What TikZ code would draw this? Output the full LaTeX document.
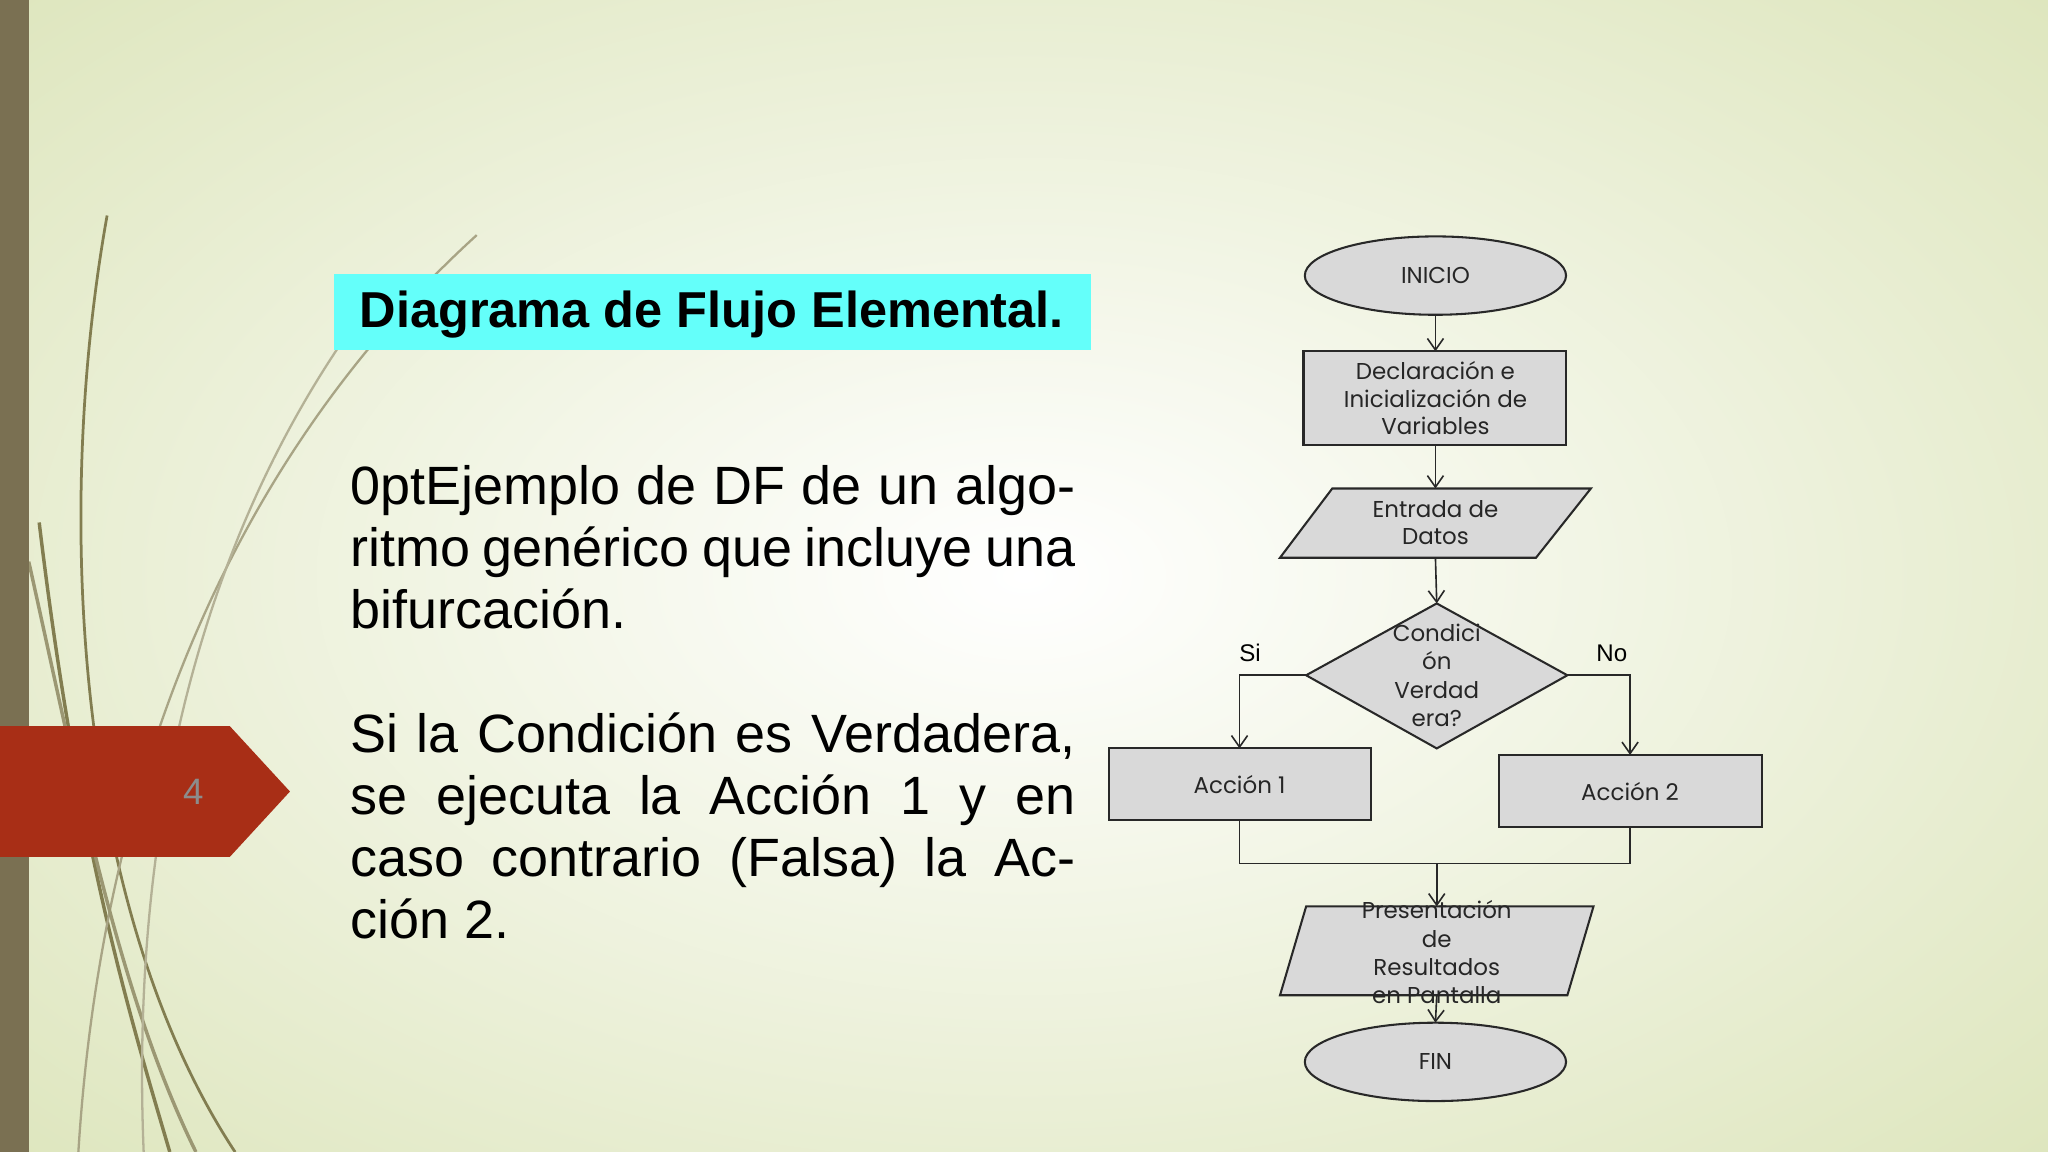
\documentclass[tikz,border=0pt]{standalone}
\usepackage{fontspec}
\setmainfont{Liberation Sans}
\newfontfamily\fcfont{Poppins}
\usetikzlibrary{arrows.meta,shapes.geometric}
\definecolor{bgout}{RGB}{222,230,190}
\definecolor{bar}{RGB}{122,112,82}
\definecolor{redtab}{RGB}{168,46,22}
\definecolor{cyanbox}{RGB}{100,255,250}
\definecolor{boxfill}{RGB}{217,217,217}
\definecolor{boxline}{RGB}{40,40,40}
\definecolor{deco}{RGB}{130,125,80}
\tikzset{
  fc/.style={draw=boxline,fill=boxfill,line width=0.9pt},
  fctext/.style={font=\fcfont\fontsize{10}{12}\selectfont,align=center,text=black!85},
  conn/.style={draw=boxline,line width=0.7pt},
  arr/.style={conn,-{Straight Barb[length=5pt,width=7pt]}},
}
\begin{document}
\begin{tikzpicture}[x=0.02cm,y=-0.02cm]
\useasboundingbox (0,0) rectangle (1568,882);
\shade[inner color=white,outer color=bgout] (-300,-200) rectangle (1868,1082);
% decorative curves
\draw[deco,line width=1.2pt] (82,165) .. controls (40,400) and (60,700) .. (180,882);
\draw[deco,line width=1.5pt] (30,400) .. controls (60,650) and (100,780) .. (130,882);
\draw[deco!70,line width=1pt] (365,180) .. controls (200,330) and (80,560) .. (60,882);
\draw[deco!80,line width=1.5pt] (22,430) .. controls (60,600) and (90,760) .. (150,882);
\draw[deco!60,line width=1pt] (270,250) .. controls (150,420) and (100,640) .. (110,882);
\fill[bar] (0,0) rectangle (22,882);
\fill[redtab] (0,556) -- (176,556) -- (222,606) -- (176,656) -- (0,656) -- cycle;
\node[text=black!45,font=\fontsize{16}{18}\selectfont] (pg) at (148,606) {4};
% title
\fill[cyanbox] (256,210) rectangle (835,268);
\node[font=\bfseries\fontsize{22}{24}\selectfont] (title) at (545,241) {Diagrama de Flujo Elemental.};
% body
\node[anchor=north west,text width=11.1cm,align=justify,font=\fontsize{23.5}{27}\selectfont\lefthyphenmin=62\righthyphenmin=62\hyphenpenalty=10000,inner sep=0pt] (body) at (268,356)
{Ejemplo de DF de un algoritmo genérico que incluye una bifurcación.\par\vspace{27pt}
Si la Condición es Verdadera, se ejecuta la Acción 1 y en caso contrario (Falsa) la Acción 2.};
% flowchart
\draw[fc] (1099,211) ellipse (100 and 30);
\node[fctext] (ini) at (1099,211) {INICIO};
\coordinate (iniB) at (1099,241);
\draw[fc] (998,269) rectangle (1199,341);
\node[fctext] (decl) at (1099,305) {Declaración e\\Inicialización de\\Variables};
\coordinate (declT) at (1099,269); \coordinate (declB) at (1099,341);
\draw[fc] (1020,374) -- (1218,374) -- (1176,427) -- (980,427) -- cycle;
\node[fctext] (ent) at (1099,400) {Entrada de\\Datos};
\coordinate (entT) at (1099,374); \coordinate (entB) at (1099,427);
\draw[fc] (1100,462) -- (1200,517) -- (1100,573) -- (1000,517) -- cycle;
\node[fctext,font=\fcfont\fontsize{10}{12.3}\selectfont] (cond) at (1100,517) {Condici\\ón\\Verdad\\era?};
\coordinate (condT) at (1100,462); \coordinate (condL) at (1000,517); \coordinate (condR) at (1200,517);
\draw[fc] (849,573) rectangle (1050,628);
\node[fctext] (a1) at (949,601) {Acción 1};
\draw[fc] (1148,578) rectangle (1349,633);
\node[fctext] (a2) at (1248,606) {Acción 2};
\coordinate (a1T) at (949,573); \coordinate (a1B) at (949,628);
\coordinate (a2T) at (1248,578); \coordinate (a2B) at (1248,633);
\draw[fc] (1000,694) -- (1220,694) -- (1200,762) -- (980,762) -- cycle;
\node[fctext,font=\fcfont\fontsize{10}{12.3}\selectfont] (pres) at (1100,729) {Presentación\\de\\Resultados\\en Pantalla};
\coordinate (presT) at (1100,694); \coordinate (presB) at (1100,762);
\draw[fc] (1099,813) ellipse (100 and 30);
\node[fctext] (fin) at (1099,813) {FIN};
\coordinate (finT) at (1099,783);
\coordinate (mL) at (949,661); \coordinate (mR) at (1248,661); \coordinate (mC) at (1100,661);
\draw[arr] (iniB) -- (declT);
\draw[arr] (declB) -- (entT);
\draw[arr] (entB) -- (condT);
\draw[arr] (condL) -| (a1T);
\draw[arr] (condR) -| (a2T);
\draw[conn] (a1B) -- (mL) -- (mR) -- (a2B);
\draw[arr] (mC) -- (presT);
\draw[arr] (presB) -- (finT);
\node[font=\fontsize{10.5}{12}\selectfont] (si) at (957,500) {Si};
\node[font=\fontsize{10.5}{12}\selectfont] (no) at (1234,500) {No};
\end{tikzpicture}
\end{document}
